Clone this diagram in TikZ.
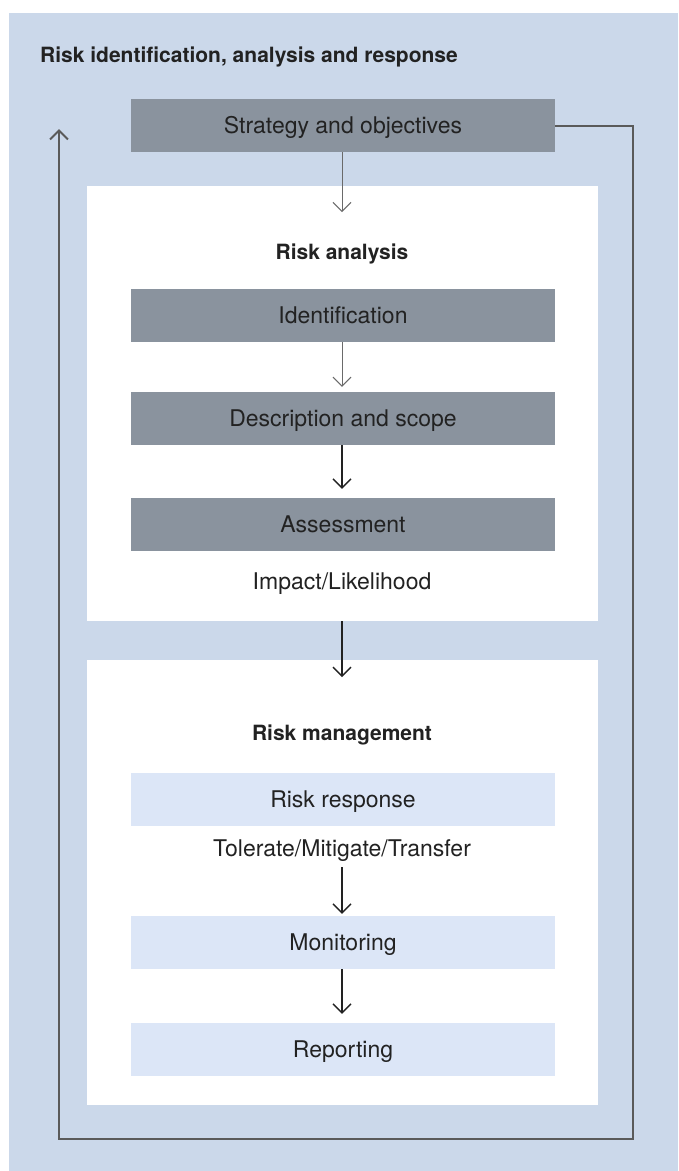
\documentclass[tikz,border=0pt]{standalone}
\usepackage{fontspec}
\setmainfont{TeX Gyre Heros}
\usetikzlibrary{arrows.meta}
\definecolor{bgblue}{HTML}{CBD8EA}
\definecolor{boxgray}{HTML}{8A939E}
\definecolor{boxlight}{HTML}{DCE6F7}
\definecolor{linegray}{HTML}{5A5A5A}
\definecolor{arrgray}{HTML}{6A6A6A}
\definecolor{txt}{HTML}{222222}
\tikzset{
  capc/.style={text height=16pt, text depth=0pt},
  darkbox/.style={capc, fill=boxgray, minimum width=424pt, minimum height=53pt, inner sep=0pt, text=txt, font=\fontsize{23}{26}\selectfont},
  lightbox/.style={capc, fill=boxlight, minimum width=424pt, minimum height=53pt, inner sep=0pt, text=txt, font=\fontsize{23}{26}\selectfont},
  heading/.style={text height=15pt, text depth=0pt, text=txt, font=\bfseries\fontsize{21}{24}\selectfont, inner sep=0pt},
  plain/.style={capc, text=txt, font=\fontsize{23}{26}\selectfont, inner sep=0pt},
  barb/.style={-{Straight Barb[length=9pt,width=18pt]}},
  thinarrow/.style={barb, draw=arrgray, line width=1pt},
  darkarrow/.style={barb, draw=txt, line width=1.4pt},
  loopline/.style={draw=linegray, line width=2pt},
}
\begin{document}
\begin{tikzpicture}[x=1pt,y=-1pt]
\useasboundingbox (0,0) rectangle (678,1171);
\fill[bgblue] (9,13) rectangle (678,1171);
\node[heading, anchor=west] (title) at (40,55) {Risk identification, analysis and response};
\fill[white] (87,186) rectangle (598,621);
\fill[white] (87,660) rectangle (598,1105);
\coordinate (wbone) at (342,621);
\node[darkbox] (strat) at (343,125.5) {Strategy and objectives};
\node[heading] (ra) at (342,252) {Risk analysis};
\node[darkbox] (ident) at (343,315.5) {Identification};
\node[darkbox] (desc) at (343,418.5) {Description and scope};
\node[darkbox] (assess) at (343,524.5) {Assessment};
\node[plain] (impact) at (342,581) {Impact/Likelihood};
\node[heading] (rm) at (342,733) {Risk management};
\node[lightbox] (resp) at (343,799.5) {Risk response};
\node[plain] (tol) at (342,848) {Tolerate/Mitigate/Transfer};
\node[lightbox] (mon) at (343,942.5) {Monitoring};
\node[lightbox] (rep) at (343,1049.5) {Reporting};
\coordinate (a1) at (342,212);
\coordinate (a5) at (342,677);
\coordinate (t1) at (342,867);
\coordinate (lr) at (633,1139);
\coordinate (ll) at (59,1139);
\coordinate (lt) at (59,129);
\draw[thinarrow] (strat.south -| a1) -- (a1);
\draw[thinarrow] (ident.south -| a1) -- ([yshift=5pt]desc.north -| a1);
\draw[darkarrow] (desc.south -| a1) -- ([yshift=9pt]assess.north -| a1);
\draw[darkarrow] (wbone) -- (a5);
\draw[darkarrow] (t1) -- ([yshift=2pt]mon.north -| a1);
\draw[darkarrow] (mon.south -| a1) -- ([yshift=9pt]rep.north -| a1);
\draw[loopline, -{Straight Barb[length=9pt,width=18pt]}] (strat.east) -| (lr) -- (ll) -- (lt);
\end{tikzpicture}
\end{document}
